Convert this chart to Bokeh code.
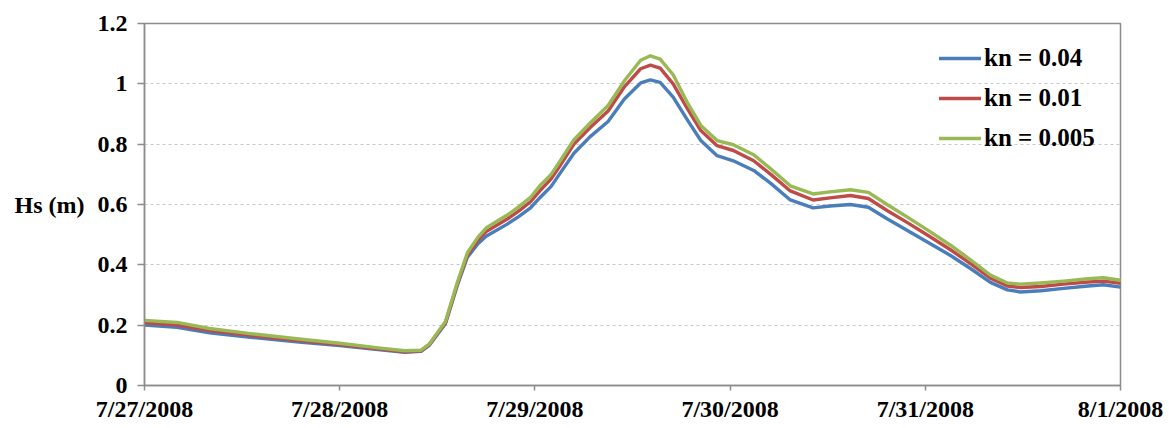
from bokeh.plotting import figure
from bokeh.models import FixedTicker, Range1d, Legend, LegendItem
from bokeh.embed import file_html
from bokeh.resources import INLINE

# hours since 7/27/2008 00:00
hours = [0, 4, 8, 13, 19, 24, 29, 32, 34, 35, 37, 38.5, 39.7, 41, 42, 44.6, 46, 47.5,
         48.7, 50, 51, 52.8, 54.8, 57, 59, 61, 62.2, 63.4, 65, 66.8, 68.4, 70.4, 72.4,
         74.9, 77, 79.4, 82.2, 84.3, 86.8, 89, 91.3, 93.8, 96.3, 99.1, 101.6, 104, 106.1,
         107.7, 110.2, 113, 116, 117.9, 120]

hs_kn004 = [0.200, 0.193, 0.175, 0.160, 0.144, 0.132, 0.118, 0.110, 0.113, 0.133, 0.205,
            0.335, 0.425, 0.470, 0.495, 0.535, 0.560, 0.590, 0.625, 0.660, 0.700, 0.770,
            0.825, 0.875, 0.950, 1.003, 1.013, 1.005, 0.956, 0.878, 0.812, 0.762, 0.745,
            0.713, 0.670, 0.615, 0.589, 0.595, 0.600, 0.591, 0.553, 0.514, 0.475, 0.431,
            0.387, 0.342, 0.317, 0.310, 0.314, 0.322, 0.330, 0.334, 0.326]

hs_kn001 = [0.208, 0.200, 0.182, 0.166, 0.149, 0.136, 0.121, 0.112, 0.115, 0.135, 0.208,
            0.340, 0.432, 0.482, 0.510, 0.552, 0.578, 0.610, 0.648, 0.685, 0.725, 0.800,
            0.855, 0.910, 0.990, 1.050, 1.062, 1.052, 1.000, 0.915, 0.845, 0.795, 0.779,
            0.745, 0.700, 0.645, 0.615, 0.622, 0.630, 0.620, 0.580, 0.540, 0.498, 0.450,
            0.403, 0.356, 0.330, 0.325, 0.328, 0.336, 0.343, 0.346, 0.339]

hs_kn0005 = [0.216, 0.209, 0.189, 0.172, 0.154, 0.140, 0.124, 0.115, 0.117, 0.137, 0.212,
             0.345, 0.440, 0.492, 0.522, 0.565, 0.592, 0.625, 0.665, 0.700, 0.740, 0.815,
             0.870, 0.928, 1.010, 1.078, 1.093, 1.082, 1.030, 0.935, 0.862, 0.812, 0.798,
             0.765, 0.718, 0.662, 0.635, 0.642, 0.649, 0.640, 0.600, 0.558, 0.515, 0.465,
             0.416, 0.366, 0.340, 0.336, 0.340, 0.346, 0.354, 0.357, 0.349]

series_labels = ["kn = 0.04", "kn = 0.01", "kn = 0.005"]
series_colors = ["#4a7ebb", "#be4b48", "#98b954"]

x_ticks = [0, 24, 48, 72, 96, 120]
x_tick_labels = ["7/27/2008", "7/28/2008", "7/29/2008", "7/30/2008", "7/31/2008", "8/1/2008"]
y_ticks = [0, 0.2, 0.4, 0.6, 0.8, 1.0, 1.2]
y_tick_labels = ["0", "0.2", "0.4", "0.6", "0.8", "1", "1.2"]

FONT = "'Liberation Serif', 'Times New Roman', serif"
GRAY = "#8c8c8c"

p = figure(width=1163, height=428, output_backend="svg", toolbar_location=None,
           x_range=Range1d(0, 120), y_range=Range1d(0, 1.2),
           min_border_left=144, min_border_right=43, min_border_top=23, min_border_bottom=43)

renderers = []
for ys, c in zip([hs_kn004, hs_kn001, hs_kn0005], series_colors):
    r = p.line(hours, ys, line_color=c, line_width=3.4, line_join="round", line_cap="round")
    renderers.append(r)

legend = Legend(items=[LegendItem(label=l, renderers=[r]) for l, r in zip(series_labels, renderers)],
                location=(795, 232))
legend.glyph_width = 42
legend.glyph_height = 30
legend.label_height = 30
legend.spacing = 10
legend.padding = 0
legend.margin = 0
legend.label_standoff = 3
legend.border_line_color = None
legend.background_fill_alpha = 0
legend.label_text_font = FONT
legend.label_text_font_style = "bold"
legend.label_text_font_size = "25px"
legend.label_text_color = "black"
p.add_layout(legend, "center")

p.xaxis.ticker = FixedTicker(ticks=x_ticks)
p.xaxis.major_label_overrides = {t: l for t, l in zip(x_ticks, x_tick_labels)}
p.yaxis.ticker = FixedTicker(ticks=y_ticks)
p.yaxis.major_label_overrides = {t: l for t, l in zip(y_ticks, y_tick_labels)}

for ax in (p.xaxis[0], p.yaxis[0]):
    ax.axis_line_color = GRAY
    ax.axis_line_width = 1.5
    ax.major_tick_line_color = GRAY
    ax.major_tick_line_width = 1.5
    ax.major_tick_in = 0
    ax.minor_tick_line_color = None
    ax.major_label_text_font = FONT
    ax.major_label_text_font_style = "bold"
    ax.major_label_text_font_size = "24px"
    ax.major_label_text_color = "black"

p.xaxis.major_tick_out = 5
p.xaxis.major_label_standoff = 5
p.yaxis.major_tick_out = 7
p.yaxis.major_label_standoff = 10

p.yaxis.axis_label = "Hs (m)"
p.yaxis.axis_label_orientation = "horizontal"
p.yaxis.axis_label_text_font = FONT
p.yaxis.axis_label_text_font_style = "bold"
p.yaxis.axis_label_text_font_size = "24px"
p.yaxis.axis_label_text_color = "black"
p.yaxis.axis_label_standoff = 10

p.xgrid.grid_line_color = None
p.ygrid.grid_line_color = "#c8c8c8"
p.ygrid.grid_line_dash = "3 3"
p.ygrid.grid_line_width = 1

p.outline_line_color = GRAY
p.outline_line_width = 1.5
p.background_fill_color = "white"
p.border_fill_color = "white"

open("out.html", "w").write(file_html(p, INLINE))
